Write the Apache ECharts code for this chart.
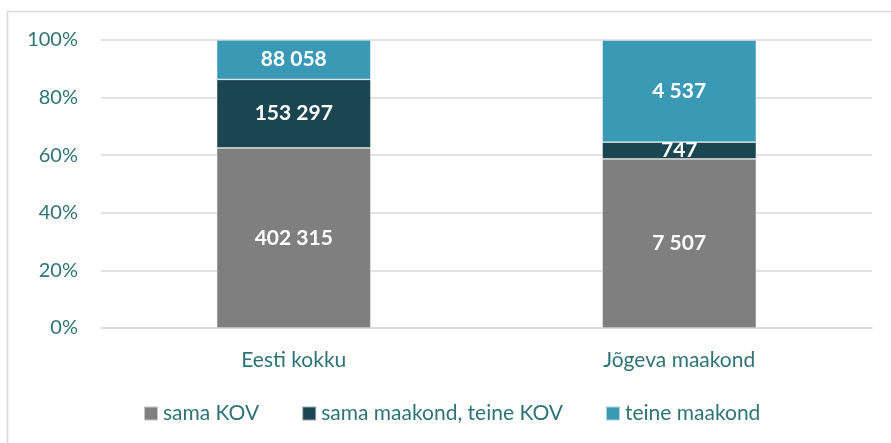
<!DOCTYPE html>
<html>
<head>
<meta charset="utf-8">
<script src="https://cdn.jsdelivr.net/npm/echarts@6/dist/echarts.min.js"></script>
<style>
html,body{margin:0;padding:0;background:#fff;}
#chart{width:891px;height:443px;}
</style>
</head>
<body>
<div id="chart"></div>
<script>
const categories = ['Eesti kokku', 'Jõgeva maakond'];
const seriesNames = ['sama KOV', 'sama maakond, teine KOV', 'teine maakond'];
const samaKOV = [402315, 7507];
const samaMaakond = [153297, 747];
const teineMaakond = [88058, 4537];
const yTicks = [0, 20, 40, 60, 80, 100];

const colors = ['#7f7f7f', '#1b4551', '#3a9ab6'];
const textColor = '#2e7376';
const font = 'Lato, "Open Sans", sans-serif';

const raw = [samaKOV, samaMaakond, teineMaakond];
const totals = categories.map((c, i) => raw.reduce((s, arr) => s + arr[i], 0));
function fmt(n) { return String(n).replace(/\B(?=(\d{3})+(?!\d))/g, ' '); }

const chart = echarts.init(document.getElementById('chart'), null, {renderer: 'canvas'});
chart.setOption({
  animation: false,
  backgroundColor: '#fff',
  graphic: [{
    type: 'rect', silent: true, z: -10,
    shape: {x: 7.5, y: 11.5, width: 900, height: 440},
    style: {fill: 'none', stroke: '#d9d9d9', lineWidth: 1.5}
  }],
  grid: {left: 101, right: 19, top: 40, bottom: 115, containLabel: false},
  legend: {
    data: seriesNames,
    left: 143, top: 403, padding: 0,
    itemWidth: 14, itemHeight: 14, itemGap: 42,
    icon: 'rect',
    textStyle: {color: textColor, fontSize: 21, fontFamily: font}
  },
  xAxis: {
    type: 'category',
    data: categories,
    axisLine: {show: true, lineStyle: {color: '#d9d9d9', width: 1.5}},
    axisTick: {show: false},
    axisLabel: {color: textColor, fontSize: 21, fontFamily: font, margin: 22}
  },
  yAxis: {
    type: 'value',
    min: yTicks[0], max: yTicks[yTicks.length - 1], interval: 20,
    axisLine: {show: false},
    axisTick: {show: false},
    splitLine: {lineStyle: {color: '#d9d9d9', width: 1.5}},
    axisLabel: {color: textColor, fontSize: 20, fontFamily: font, margin: 23, formatter: '{value}%'}
  },
  series: raw.map((arr, si) => ({
    name: seriesNames[si],
    type: 'bar',
    stack: 'total',
    barWidth: '40%',
    itemStyle: {color: colors[si], borderColor: 'rgba(255,255,255,0.55)', borderWidth: 0.75},
    label: {
      show: true, position: 'inside',
      color: '#fff', fontWeight: 'bold', fontSize: 21, fontFamily: font,
      formatter: p => fmt(arr[p.dataIndex])
    },
    data: arr.map((v, i) => v / totals[i] * 100)
  }))
});
</script>
</body>
</html>
